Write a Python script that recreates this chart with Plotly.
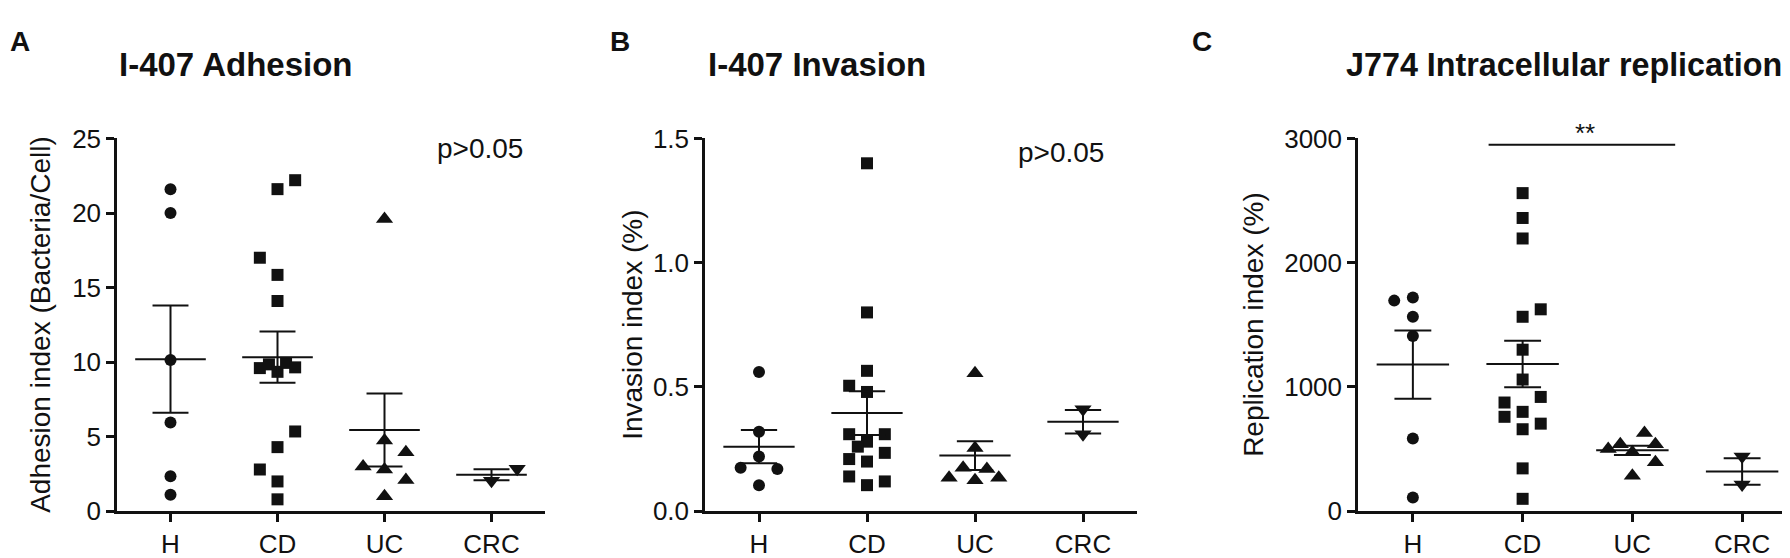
import plotly.graph_objects as go

W, H = 1790, 558

categories = ["H", "CD", "UC", "CRC"]

# ---------------- Panel A: I-407 Adhesion ----------------
adh_H = [21.6, 20.0, 10.15, 5.95, 2.35, 1.1]
adh_CD = [22.2, 21.6, 17.0, 15.85, 14.1, 9.6, 9.85, 9.35, 9.95, 9.65, 5.35, 4.3, 2.8, 2.0, 0.8]
adh_UC = [19.6, 4.75, 3.95, 3.0, 2.8, 2.1, 1.0]
adh_CRC = [2.05, 2.85]
adh_mean = [10.2, 10.33, 5.45, 2.45]
adh_sem = [3.6, 1.72, 2.45, 0.37]

# ---------------- Panel B: I-407 Invasion ----------------
inv_H = [0.56, 0.32, 0.22, 0.175, 0.17, 0.105]
inv_CD = [1.40, 0.80, 0.565, 0.505, 0.48, 0.31, 0.28, 0.26, 0.31, 0.235, 0.21, 0.20, 0.14, 0.105, 0.12]
inv_UC = [0.555, 0.255, 0.175, 0.17, 0.135, 0.125, 0.135]
inv_CRC = [0.41, 0.31]
inv_mean = [0.26, 0.395, 0.224, 0.36]
inv_sem = [0.067, 0.088, 0.058, 0.047]

# ---------------- Panel C: J774 Intracellular replication ----------------
rep_H = [1695, 1720, 1565, 1410, 585, 110]
rep_CD = [2560, 2360, 2195, 1625, 1565, 1300, 1060, 920, 875, 760, 800, 705, 660, 345, 100]
rep_UC = [630, 500, 540, 540, 475, 395, 285]
rep_CRC = [440, 215]
rep_mean = [1180, 1185, 490, 320]
rep_sem = [275, 187, 38, 107]

# horizontal scatter spread of the points (layout, not data)
jit_A = [
    [0, 0, 0, 0, 0, 0],
    [0.165, 0, -0.165, 0, 0, -0.165, -0.08, 0, 0.08, 0.165, 0.165, 0, -0.165, 0, 0],
    [0, 0, 0.2, -0.2, 0, 0.2, 0],
    [0, 0.24],
]
jit_B = [
    [0, 0, 0, -0.17, 0.17, 0],
    [0, 0, 0, -0.165, 0, -0.165, 0, -0.085, 0.165, 0.165, -0.165, 0, -0.165, 0, 0.165],
    [0, 0, -0.11, 0.11, -0.24, 0, 0.22],
    [0, 0],
]
jit_C = [
    [-0.17, 0, 0, 0, 0, 0],
    [0, 0, 0, 0.165, 0, 0, 0, 0.165, -0.165, -0.165, 0, 0.165, 0, 0, 0],
    [0.11, -0.22, -0.11, 0.21, 0, 0.21, 0],
    [0, 0],
]

symbols = ["circle", "square", "triangle-up", "triangle-down"]
sizes = [12, 12, 15, 15]
INK = "#111111"
FONT = "Liberation Sans, Arial, Helvetica, sans-serif"

panels = [
    dict(groups=[adh_H, adh_CD, adh_UC, adh_CRC], jit=jit_A, mean=adh_mean, sem=adh_sem,
         ymax=25, ticks=[0, 5, 10, 15, 20, 25], ticktext=["0", "5", "10", "15", "20", "25"],
         x0=109, x1=537),
    dict(groups=[inv_H, inv_CD, inv_UC, inv_CRC], jit=jit_B, mean=inv_mean, sem=inv_sem,
         ymax=1.5, ticks=[0, 0.5, 1.0, 1.5], ticktext=["0.0", "0.5", "1.0", "1.5"],
         x0=697, x1=1129),
    dict(groups=[rep_H, rep_CD, rep_UC, rep_CRC], jit=jit_C, mean=rep_mean, sem=rep_sem,
         ymax=3000, ticks=[0, 1000, 2000, 3000], ticktext=["0", "1000", "2000", "3000"],
         x0=1350, x1=1789),
]

Y_ZERO, Y_TOP = 516, 122
ydom = [(H - Y_ZERO) / H, (H - Y_TOP) / H]

fig = go.Figure()
MEAN_HW, CAP_HW = 0.33, 0.168

for p_i, p in enumerate(panels, start=1):
    xa = "x" if p_i == 1 else f"x{p_i}"
    ya = "y" if p_i == 1 else f"y{p_i}"
    for g_i, vals in enumerate(p["groups"]):
        fig.add_trace(go.Scatter(
            x=[g_i + j for j in p["jit"][g_i]], y=vals, mode="markers",
            marker=dict(symbol=symbols[g_i], size=sizes[g_i], color=INK, line=dict(width=0)),
            xaxis=xa, yaxis=ya, showlegend=False, cliponaxis=False,
        ))
    lx, ly = [], []
    for g_i, (m, s) in enumerate(zip(p["mean"], p["sem"])):
        lx += [g_i - MEAN_HW, g_i + MEAN_HW, None]
        ly += [m, m, None]
        lx += [g_i, g_i, None]
        ly += [m - s, m + s, None]
        lx += [g_i - CAP_HW, g_i + CAP_HW, None, g_i - CAP_HW, g_i + CAP_HW, None]
        ly += [m + s, m + s, None, m - s, m - s, None]
    fig.add_trace(go.Scatter(x=lx, y=ly, mode="lines", line=dict(color=INK, width=2),
                             xaxis=xa, yaxis=ya, showlegend=False, hoverinfo="skip",
                             cliponaxis=False))

    axstyle = dict(showline=True, linewidth=2.5, linecolor=INK, ticks="outside", ticklen=8,
                   tickwidth=2.5, tickcolor=INK, showgrid=False, zeroline=False,
                   tickfont=dict(size=26, color=INK, family=FONT), fixedrange=True)
    fig.update_layout(**{
        ("xaxis" if p_i == 1 else f"xaxis{p_i}"): dict(
            domain=[p["x0"] / W, p["x1"] / W], range=[-0.5, 3.5],
            tickvals=[0, 1, 2, 3], ticktext=categories, anchor=ya, **axstyle),
        ("yaxis" if p_i == 1 else f"yaxis{p_i}"): dict(
            domain=ydom, range=[0, p["ymax"]], tickvals=p["ticks"], ticktext=p["ticktext"],
            anchor=xa, **axstyle),
    })

# significance bar in panel C
fig.add_shape(type="line", xref="x3", yref="y3", x0=0.69, x1=2.39, y0=2950, y1=2950,
              line=dict(color=INK, width=2))

def px(x):
    return x / W

def py(y):
    return (H - y) / H

ann = []
# panel letters
for t, x in [("A", 0), ("B", 600), ("C", 1182)]:
    ann.append(dict(text=f"<b>{t}</b>", x=px(x), y=py(20), xanchor="left", yanchor="middle",
                    font=dict(size=28, color=INK, family=FONT)))
# titles
for t, x, fs in [("I-407 Adhesion", 109, 33), ("I-407 Invasion", 698, 33),
                 ("J774 Intracellular replication", 1336, 32.3)]:
    ann.append(dict(text=f"<b>{t}</b>", x=px(x), y=py(44), xanchor="left", yanchor="middle",
                    font=dict(size=fs, color=INK, family=FONT)))
# y-axis titles
for t, x in [("Adhesion index (Bacteria/Cell)", 33), ("Invasion index (%)", 625),
             ("Replication index (%)", 1246)]:
    ann.append(dict(text=t, x=px(x), y=py(319), xanchor="center", yanchor="middle",
                    textangle=-90, font=dict(size=28, color=INK, family=FONT)))
# p-values and stars
ann.append(dict(text="p>0.05", x=px(427), y=py(133), xanchor="left", yanchor="middle",
                font=dict(size=28, color=INK, family=FONT)))
ann.append(dict(text="p>0.05", x=px(1008), y=py(137), xanchor="left", yanchor="middle",
                font=dict(size=28, color=INK, family=FONT)))
ann.append(dict(text="**", x=px(1577), y=py(116), xanchor="center", yanchor="middle",
                font=dict(size=26, color=INK, family=FONT)))
for a in ann:
    a.update(xref="paper", yref="paper", showarrow=False)

fig.update_layout(
    width=W, height=H, margin=dict(l=0, r=0, t=0, b=0),
    paper_bgcolor="white", plot_bgcolor="white",
    font=dict(family=FONT, color=INK), annotations=ann,
)

fig.write_html("out.html", config={"displayModeBar": False})
